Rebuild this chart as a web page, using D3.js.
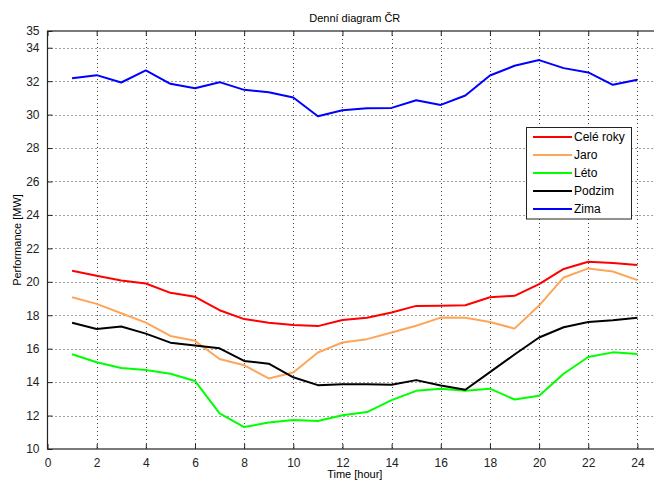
<!DOCTYPE html>
<html>
<head>
<meta charset="utf-8">
<script src="https://cdn.jsdelivr.net/npm/d3@7"></script>
<style>
  html, body { margin: 0; padding: 0; background: #fff; }
  svg { display: block; font-family: "Liberation Sans", Arial, Helvetica, sans-serif; }
</style>
</head>
<body>
<svg id="chart" width="654" height="482"></svg>
<script>
// Hours of the day
const hours = [1,2,3,4,5,6,7,8,9,10,11,12,13,14,15,16,17,18,19,20,21,22,23,24];

// Average hourly load per season [MW]
const celeRoky = [20.66,20.36,20.08,19.9,19.34,19.1,18.3,17.77,17.55,17.41,17.35,17.71,17.85,18.16,18.56,18.57,18.6,19.08,19.16,19.86,20.77,21.2,21.12,21.0];
const jaro     = [19.08,18.68,18.12,17.56,16.76,16.47,15.38,15.01,14.22,14.58,15.77,16.37,16.57,16.97,17.37,17.86,17.85,17.6,17.2,18.58,20.26,20.8,20.62,20.1];
const leto     = [15.67,15.19,14.84,14.72,14.5,14.07,12.13,11.31,11.58,11.73,11.67,12.02,12.21,12.92,13.48,13.61,13.48,13.61,12.96,13.19,14.5,15.5,15.78,15.68];
const podzim   = [17.55,17.18,17.33,16.9,16.36,16.19,16.02,15.27,15.1,14.29,13.82,13.87,13.87,13.84,14.12,13.8,13.54,14.6,15.65,16.67,17.28,17.6,17.7,17.85];
const zima     = [32.18,32.36,31.92,32.64,31.84,31.58,31.94,31.48,31.34,31.02,29.9,30.26,30.38,30.4,30.86,30.58,31.14,32.34,32.92,33.26,32.78,32.52,31.78,32.08];

const seriesNames  = ["Celé roky", "Jaro", "Léto", "Podzim", "Zima"];
const seriesValues = [celeRoky, jaro, leto, podzim, zima];
const seriesColors = ["#ff0000", "#ffa559", "#00ff00", "#000000", "#0000ff"];

// Axis ticks
const xTicks = [0,2,4,6,8,10,12,14,16,18,20,22,24];
const yTicks = [10,12,14,16,18,20,22,24,26,28,30,32,34,35];

const svg = d3.select("#chart");
const plotLeft = 47.5, plotRight = 662, plotTop = 31, plotBottom = 449;

const x = d3.scaleLinear().domain([0, 25]).range([plotLeft, plotRight]);
const y = d3.scaleLinear().domain([10, 35]).range([plotBottom, plotTop]);

const g = svg.append("g");

// Dotted grid
const grid = g.append("g").attr("stroke", "#000").attr("stroke-width", 1)
  .attr("stroke-dasharray", "1,3").attr("opacity", 0.75);
xTicks.filter(t => t > 0).forEach(t => {
  grid.append("line").attr("x1", Math.round(x(t)) + 0.5).attr("x2", Math.round(x(t)) + 0.5)
    .attr("y1", plotTop).attr("y2", plotBottom);
});
yTicks.filter(t => t > 10 && t < 35).forEach(t => {
  grid.append("line").attr("y1", Math.round(y(t)) + 0.5).attr("y2", Math.round(y(t)) + 0.5)
    .attr("x1", plotLeft).attr("x2", plotRight);
});

// Axes with inward ticks
const xAxis = d3.axisBottom(x).tickValues(xTicks).tickSizeInner(-5).tickSizeOuter(0).tickPadding(9);
const yAxis = d3.axisLeft(y).tickValues(yTicks).tickSizeInner(-5).tickSizeOuter(0).tickPadding(8);
const xAxisTop = d3.axisTop(x).tickValues(xTicks).tickSizeInner(-5).tickSizeOuter(0).tickFormat("");
const yAxisRight = d3.axisRight(y).tickValues(yTicks).tickSizeInner(-5).tickSizeOuter(0).tickFormat("");

function styleAxis(sel) {
  sel.selectAll("path").remove();
  sel.selectAll("line").attr("stroke", "#222");
  sel.selectAll("text").attr("fill", "#222").style("font-size", "12px")
    .style("font-family", '"Liberation Sans", Arial, sans-serif');
}
g.append("g").attr("transform", `translate(0,${plotBottom})`).call(xAxis).call(styleAxis);
g.append("g").attr("transform", `translate(${plotLeft},0)`).call(yAxis).call(styleAxis);
g.append("g").attr("transform", `translate(0,${plotTop})`).call(xAxisTop).call(styleAxis);
g.append("g").attr("transform", `translate(${plotRight},0)`).call(yAxisRight).call(styleAxis);

// Axes box
g.append("rect").attr("x", plotLeft).attr("y", plotTop)
  .attr("width", plotRight - plotLeft).attr("height", plotBottom - plotTop)
  .attr("fill", "none").attr("stroke", "#222").attr("stroke-width", 1.2);

// Series lines
const line = d3.line().x((d, i) => x(hours[i])).y(d => y(d));
seriesValues.forEach((vals, k) => {
  g.append("path").datum(vals).attr("d", line).attr("fill", "none")
    .attr("stroke", seriesColors[k]).attr("stroke-width", 2).attr("stroke-linejoin", "round");
});

// Title and axis labels
const cx = (plotLeft + plotRight) / 2;
svg.append("text").attr("x", cx).attr("y", 22).attr("text-anchor", "middle")
  .style("font-size", "11px").attr("fill", "#000").text("Denní diagram ČR");
svg.append("text").attr("x", cx).attr("y", 478).attr("text-anchor", "middle")
  .style("font-size", "11px").attr("fill", "#000").text("Time [hour]");
svg.append("text").attr("transform", `translate(21,${(plotTop + plotBottom) / 2}) rotate(-90)`)
  .attr("text-anchor", "middle").style("font-size", "11px").attr("fill", "#000").text("Performance [MW]");

// Legend
const lg = svg.append("g");
lg.append("rect").attr("x", 526.5).attr("y", 127.5).attr("width", 105).attr("height", 91.5)
  .attr("fill", "#fff").attr("stroke", "#222").attr("stroke-width", 1);
seriesNames.forEach((name, k) => {
  const yy = 137 + k * 18;
  lg.append("line").attr("x1", 533).attr("x2", 572).attr("y1", yy).attr("y2", yy)
    .attr("stroke", seriesColors[k]).attr("stroke-width", 2);
  lg.append("text").attr("x", 574).attr("y", yy + 4).style("font-size", "12px")
    .attr("fill", "#000").text(name);
});
</script>
</body>
</html>
